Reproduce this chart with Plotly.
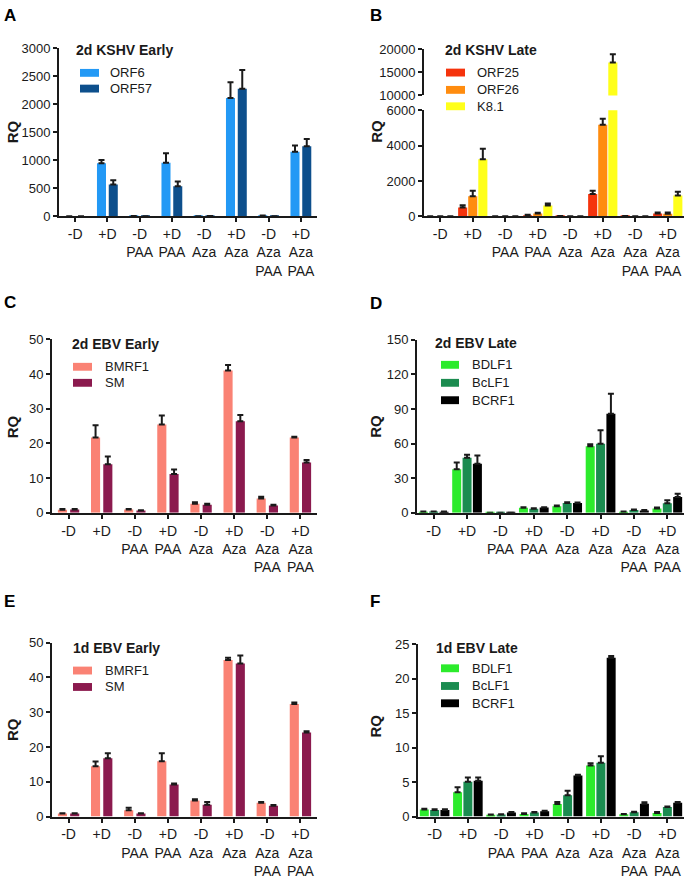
import plotly.graph_objects as go

W, H = 684, 884

CONDITIONS = ["-D", "+D", "-D<br>PAA", "+D<br>PAA", "-D<br>Aza", "+D<br>Aza",
              "-D<br>Aza<br>PAA", "+D<br>Aza<br>PAA"]

# A - 2d KSHV Early
ORF6 = [1, 950, 5, 956, 3, 2115, 12, 1154]
ORF6_ERR = [None, 58, 2, 170, 1, 280, 3, 111]
ORF57 = [1, 571, 3, 536, 5, 2279, 3, 1253]
ORF57_ERR = [None, 76, None, 88, 1, 332, None, 128]

# B - 2d KSHV Late
ORF25 = [2, 503, 2, 56, 20, 1267, 20, 168]
ORF25_ERR = [None, 130, None, 30, 5, 186, 5, 56]
ORF26 = [2, 1137, 2, 168, 5, 5180, 5, 150]
ORF26_ERR = [None, 316, None, 37, None, 335, None, 75]
K81 = [2, 3223, 2, 615, 3, 17122, 3, 1174]
K81_ERR = [None, 596, None, 112, None, 1800, None, 223]

# C - 2d EBV Early
BMRF1_2D = [0.9, 21.7, 0.95, 25.4, 2.6, 41.0, 4.1, 21.7]
BMRF1_2D_ERR = [0.15, 3.5, 0.1, 2.6, 0.4, 1.6, 0.5, 0.2]
SM_2D = [0.95, 14.0, 0.66, 11.2, 2.3, 26.4, 2.1, 14.5]
SM_2D_ERR = [0.1, 2.2, 0.1, 1.3, 0.3, 1.8, 0.2, 0.7]

# D - 2d EBV Late
BDLF1_2D = [0.9, 37.8, 0.05, 4.3, 5.7, 57.7, 0.9, 3.7]
BDLF1_2D_ERR = [0.2, 5.7, None, 0.5, 0.5, 1.7, 0.2, 0.8]
BCLF1_2D = [1.0, 47.7, 0.05, 3.4, 8.5, 59.9, 2.3, 8.2]
BCLF1_2D_ERR = [0.2, 2.6, None, 0.6, 0.6, 11.7, 0.5, 2.6]
BCRF1_2D = [0.8, 42.6, 0.05, 4.5, 8.5, 85.8, 2.0, 13.6]
BCRF1_2D_ERR = [0.2, 7.1, None, 0.3, 0.5, 17.3, 0.3, 2.9]

# E - 1d EBV Early
BMRF1_1D = [0.85, 14.5, 1.8, 15.9, 4.6, 45.0, 4.0, 32.4]
BMRF1_1D_ERR = [0.1, 1.3, 0.7, 2.3, 0.4, 0.7, 0.2, 0.4]
SM_1D = [0.85, 16.8, 0.85, 9.2, 3.4, 44.0, 3.1, 24.2]
SM_1D_ERR = [0.1, 1.4, 0.1, 0.3, 0.8, 2.3, 0.2, 0.3]

# F - 1d EBV Late
BDLF1_1D = [1.0, 3.5, 0.24, 0.38, 1.8, 7.4, 0.33, 0.52]
BDLF1_1D_ERR = [0.12, 0.75, 0.05, 0.09, 0.3, 0.33, 0.05, 0.14]
BCLF1_1D = [0.95, 5.05, 0.28, 0.57, 3.1, 7.8, 0.61, 1.37]
BCLF1_1D_ERR = [0.1, 0.6, 0.05, 0.09, 0.65, 0.95, 0.09, 0.09]
BCRF1_1D = [0.95, 5.2, 0.57, 0.75, 5.94, 23.0, 1.84, 2.0]
BCRF1_1D_ERR = [0.1, 0.45, 0.09, 0.1, 0.1, 0.25, 0.24, 0.1]

FONT = "Arial, Liberation Sans, sans-serif"
INK = "#1a1a1a"


def px(x):
    return x / W


def py(y):
    return 1 - y / H


fig = go.Figure()
shapes = []
annotations = []


def add_series(series, xa, ya, slot, width):
    n = len(series)
    for i, (name, vals, err, color) in enumerate(series):
        off = -n * slot / 2 + i * slot + (slot - width) / 2
        fig.add_trace(go.Bar(
            x=CONDITIONS, y=vals, name=name,
            offset=off, width=width,
            marker=dict(color=color, line=dict(width=0)),
            error_y=dict(type="data", array=err, arrayminus=[0] * len(err),
                         symmetric=False, color=INK, thickness=2, width=3),
            xaxis=xa, yaxis=ya, showlegend=False,
        ))


def x_axis(left, right, anchor, visible=True):
    return dict(domain=[px(left), px(right)], range=[-0.5, 7.5], anchor=anchor,
                visible=visible, showline=True, linecolor=INK, linewidth=2,
                ticks="outside", ticklen=4, tickwidth=1.5, tickcolor=INK,
                showgrid=False, zeroline=False,
                tickfont=dict(family=FONT, size=14, color=INK))


def y_axis(bottom, top, rng, tickvals, anchor):
    return dict(domain=[py(bottom), py(top)], range=rng, anchor=anchor,
                showline=True, linecolor=INK, linewidth=2,
                ticks="outside", ticklen=4, tickwidth=1.5, tickcolor=INK,
                tickvals=tickvals, tickformat="d", showgrid=False, zeroline=False,
                tickfont=dict(family=FONT, size=13, color=INK))


def legend_block(title, tx, ty, sx0, sx1, ys, labels, colors, lx):
    annotations.append(dict(text="<b>" + title + "</b>", x=px(tx), y=py(ty),
                            xref="paper", yref="paper", xanchor="left", yanchor="middle",
                            showarrow=False, font=dict(family=FONT, size=14, color=INK)))
    for yc, lab, col in zip(ys, labels, colors):
        shapes.append(dict(type="rect", xref="paper", yref="paper",
                           x0=px(sx0), x1=px(sx1), y0=py(yc + 4), y1=py(yc - 4),
                           fillcolor=col, line=dict(width=0)))
        annotations.append(dict(text=lab, x=px(lx), y=py(yc), xref="paper", yref="paper",
                                xanchor="left", yanchor="middle", showarrow=False,
                                font=dict(family=FONT, size=13, color=INK)))


def side_labels(letter, lx, ly, rx, ry):
    annotations.append(dict(text="<b>" + letter + "</b>", x=px(lx), y=py(ly),
                            xref="paper", yref="paper", xanchor="left", yanchor="middle",
                            showarrow=False, font=dict(family=FONT, size=17, color="black")))
    annotations.append(dict(text="<b>RQ</b>", x=px(rx), y=py(ry), textangle=-90,
                            xref="paper", yref="paper", xanchor="center", yanchor="middle",
                            showarrow=False, font=dict(family=FONT, size=15, color=INK)))


# colours
C_ORF6, C_ORF57 = "#2399F5", "#0D4F8C"
C_ORF25, C_ORF26, C_K81 = "#F5330C", "#FF8C0F", "#FFFF1A"
C_BMRF1, C_SM = "#FA8274", "#8B1A4E"
C_BDLF1, C_BCLF1, C_BCRF1 = "#2CEB2C", "#1B8C50", "#000000"

# A
add_series([("ORF6", ORF6, ORF6_ERR, C_ORF6), ("ORF57", ORF57, ORF57_ERR, C_ORF57)],
           "x", "y", 0.365, 0.28)
# B (broken axis: lower and upper segments)
b_series = [("ORF25", ORF25, ORF25_ERR, C_ORF25), ("ORF26", ORF26, ORF26_ERR, C_ORF26),
            ("K8.1", K81, K81_ERR, C_K81)]
add_series(b_series, "x2", "y2", 0.31, 0.28)
add_series(b_series, "x3", "y3", 0.31, 0.28)
# C
add_series([("BMRF1", BMRF1_2D, BMRF1_2D_ERR, C_BMRF1), ("SM", SM_2D, SM_2D_ERR, C_SM)],
           "x4", "y4", 0.37, 0.275)
# D
add_series([("BDLF1", BDLF1_2D, BDLF1_2D_ERR, C_BDLF1), ("BcLF1", BCLF1_2D, BCLF1_2D_ERR, C_BCLF1),
            ("BCRF1", BCRF1_2D, BCRF1_2D_ERR, C_BCRF1)], "x5", "y5", 0.31, 0.27)
# E
add_series([("BMRF1", BMRF1_1D, BMRF1_1D_ERR, C_BMRF1), ("SM", SM_1D, SM_1D_ERR, C_SM)],
           "x6", "y6", 0.37, 0.275)
# F
add_series([("BDLF1", BDLF1_1D, BDLF1_1D_ERR, C_BDLF1), ("BcLF1", BCLF1_1D, BCLF1_1D_ERR, C_BCLF1),
            ("BCRF1", BCRF1_1D, BCRF1_1D_ERR, C_BCRF1)], "x7", "y7", 0.31, 0.27)

layout = dict(
    width=W, height=H, margin=dict(l=0, r=0, t=0, b=0),
    paper_bgcolor="white", plot_bgcolor="white",
    barmode="overlay", showlegend=False,
    font=dict(family=FONT, size=13, color=INK),
    xaxis=x_axis(59, 317, "y"),
    yaxis=y_axis(213, 42, [0, 3000], [0, 500, 1000, 1500, 2000, 2500, 3000], "x"),
    xaxis2=x_axis(424, 684, "y2"),
    yaxis2=y_axis(213, 105, [0, 6000], [0, 2000, 4000, 6000], "x2"),
    xaxis3=x_axis(424, 684, "y3", visible=False),
    yaxis3=y_axis(90, 43, [10000, 20000], [10000, 15000, 20000], "x3"),
    xaxis4=x_axis(52, 317, "y4"),
    yaxis4=y_axis(514.5, 338, [0, 50], [0, 10, 20, 30, 40, 50], "x4"),
    xaxis5=x_axis(417, 684, "y5"),
    yaxis5=y_axis(514.5, 338.5, [0, 150], [0, 30, 60, 90, 120, 150], "x5"),
    xaxis6=x_axis(52, 317, "y6"),
    yaxis6=y_axis(823.5, 646.7, [0, 50], [0, 10, 20, 30, 40, 50], "x6"),
    xaxis7=x_axis(418, 684, "y7"),
    yaxis7=y_axis(823.5, 648, [0, 25], [0, 5, 10, 15, 20, 25], "x7"),
)
fig.update_layout(**layout)

legend_block("2d KSHV Early", 74, 44, 80, 99, [67, 83], ["ORF6", "ORF57"],
             [C_ORF6, C_ORF57], 108)
legend_block("2d KSHV Late", 443, 43.5, 446, 465, [66.7, 84.3, 101], ["ORF25", "ORF26", "K8.1"],
             [C_ORF25, C_ORF26, C_K81], 475)
legend_block("2d EBV Early", 70, 342.5, 73, 92, [366, 382.3], ["BMRF1", "SM"],
             [C_BMRF1, C_SM], 102.5)
legend_block("2d EBV Late", 433, 341.7, 441, 459, [364, 382.3, 400], ["BDLF1", "BcLF1", "BCRF1"],
             [C_BDLF1, C_BCLF1, C_BCRF1], 469.5)
legend_block("1d EBV Early", 71, 651.7, 73, 92, [675, 691.7], ["BMRF1", "SM"],
             [C_BMRF1, C_SM], 102.5)
legend_block("1d EBV Late", 434, 651.7, 441, 459, [672.7, 690.7, 708.3], ["BDLF1", "BcLF1", "BCRF1"],
             [C_BDLF1, C_BCLF1, C_BCRF1], 469.5)

side_labels("A", 2, 9, 12.5, 127)
side_labels("B", 368, 9, 377, 127)
side_labels("C", 2, 301, 12.5, 427)
side_labels("D", 368, 301.5, 376, 427)
side_labels("E", 2, 605, 12.5, 735)
side_labels("F", 368, 605, 376, 732)

fig.update_layout(shapes=shapes, annotations=annotations)

# page body margin would shift the fixed-size figure out of the window
fig.write_html("out.html", config={"displayModeBar": False},
               post_script="document.body.style.margin='0px';")
